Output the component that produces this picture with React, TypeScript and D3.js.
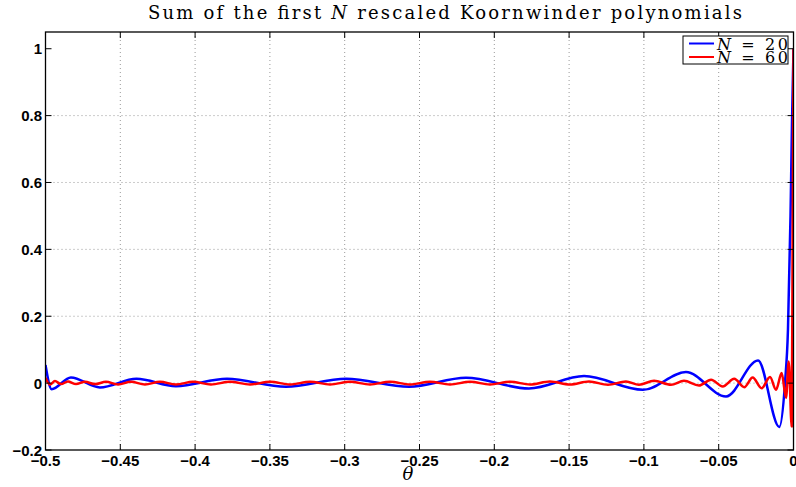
import React from 'react'
import * as d3 from 'd3'

// theta positions and values of the two sums
const thetaN20 = [-0.5, -0.4959, -0.483, -0.4636, -0.4392, -0.4128, -0.3787, -0.3392, -0.2991, -0.257, -0.2189, -0.1768, -0.14, -0.1006, -0.0719, -0.0451, -0.0237, -0.0095, -0.0057, -0.0037, -0.002, -0.001, 0]
const valueN20 = [0.054, -0.018, 0.017, -0.013, 0.013, -0.009, 0.013, -0.011, 0.013, -0.011, 0.016, -0.016, 0.021, -0.02, 0.033, -0.04, 0.068, -0.131, 0.0, 0.16, 0.5, 0.78, 1.0]

const thetaN60 = [-0.5, -0.497, -0.4937, -0.4896, -0.485, -0.4796, -0.4736, -0.4669, -0.4596, -0.4515, -0.4429, -0.4335, -0.4235, -0.4128, -0.4014, -0.3894, -0.3767, -0.3633, -0.3499, -0.3366, -0.3232, -0.3098, -0.2965, -0.2831, -0.2697, -0.2564, -0.243, -0.2296, -0.2162, -0.2029, -0.1895, -0.1761, -0.1628, -0.1494, -0.1367, -0.124, -0.112, -0.1033, -0.0932, -0.0819, -0.0732, -0.0632, -0.0551, -0.0473, -0.0396, -0.0329, -0.0273, -0.0213, -0.0157, -0.0117, -0.0079, -0.005, -0.0032, -0.0012, -0.0006, 0]
const valueN60 = [0.016, -0.004, 0.006, -0.003, 0.005, -0.003, 0.004, -0.003, 0.004, -0.004, 0.004, -0.004, 0.004, -0.004, 0.004, -0.004, 0.004, -0.004, 0.004, -0.004, 0.004, -0.004, 0.004, -0.004, 0.004, -0.004, 0.004, -0.004, 0.004, -0.004, 0.004, -0.004, 0.005, -0.004, 0.005, -0.005, 0.005, -0.005, 0.007, -0.005, 0.007, -0.007, 0.01, -0.01, 0.013, -0.012, 0.017, -0.015, 0.018, -0.02, 0.03, -0.044, 0.065, -0.13, 0.4, 1.0]

const xTicks = [-0.5, -0.45, -0.4, -0.35, -0.3, -0.25, -0.2, -0.15, -0.1, -0.05, 0]
const yTicks = [-0.2, 0, 0.2, 0.4, 0.6, 0.8, 1]

const fmt = (v: number) => (v < 0 ? '\u2212' + String(-v) : String(v))

export default function App() {
  const width = 796
  const height = 487
  const left = 45.5, right = 793.5, top = 32, bottom = 450

  const x = d3.scaleLinear().domain([-0.5, 0]).range([left, right])
  const y = d3.scaleLinear().domain([-0.2, 1.05]).range([bottom, top])

  const line = d3.line<[number, number]>()
    .x(d => x(d[0]))
    .y(d => y(d[1]))
    .curve(d3.curveMonotoneX)

  const blue = line(thetaN20.map((t, i) => [t, valueN20[i]]) as [number, number][])
  const red = line(thetaN60.map((t, i) => [t, valueN60[i]]) as [number, number][])

  const tickFont = { fontFamily: 'Liberation Sans, Arial, sans-serif', fontWeight: 'bold' as const, fontSize: 15 }
  const serif = 'DejaVu Serif, Liberation Serif, serif'

  return (
    <svg width={width} height={height} style={{ position: 'absolute', left: 0, top: 0, background: '#fff' }}>
      <rect x={0} y={0} width={width} height={height} fill="#fff" />
      <defs>
        <clipPath id="plot">
          <rect x={left} y={top} width={right - left} height={bottom - top} />
        </clipPath>
      </defs>

      {/* grid */}
      {xTicks.slice(1, -1).map(t => (
        <line key={'gx' + t} x1={x(t)} x2={x(t)} y1={top} y2={bottom} stroke="#999" strokeWidth={1} strokeDasharray="1,3" />
      ))}
      {yTicks.slice(1, -1).map(t => (
        <line key={'gy' + t} x1={left} x2={right} y1={y(t)} y2={y(t)} stroke="#999" strokeWidth={1} strokeDasharray="1,3" />
      ))}

      {/* curves */}
      <g clipPath="url(#plot)">
        <path d={blue || ''} fill="none" stroke="#0000ff" strokeWidth={2.5} strokeLinejoin="round" />
        <path d={red || ''} fill="none" stroke="#ff0000" strokeWidth={2.5} strokeLinejoin="round" />
      </g>

      {/* box and ticks */}
      <rect x={left} y={top} width={right - left} height={bottom - top} fill="none" stroke="#000" strokeWidth={1.3} />
      {xTicks.map(t => (
        <g key={'tx' + t}>
          <line x1={x(t)} x2={x(t)} y1={bottom} y2={bottom - 6} stroke="#000" />
          <line x1={x(t)} x2={x(t)} y1={top} y2={top + 6} stroke="#000" />
          <text x={x(t)} y={466} textAnchor="middle" {...tickFont}>{fmt(t)}</text>
        </g>
      ))}
      {yTicks.map(t => (
        <g key={'ty' + t}>
          <line x1={left} x2={left + 6} y1={y(t)} y2={y(t)} stroke="#000" />
          <line x1={right} x2={right - 6} y1={y(t)} y2={y(t)} stroke="#000" />
          <text x={42} y={y(t) + 5.5} textAnchor="end" {...tickFont}>{fmt(t)}</text>
        </g>
      ))}

      {/* title */}
      <text x={148} y={18.5} fontFamily={serif} fontSize={18} textLength={594} lengthAdjust="spacing">
        Sum of the first <tspan fontStyle="italic">N</tspan> rescaled Koornwinder polynomials
      </text>

      {/* x label */}
      <text x={408} y={480} textAnchor="middle" fontFamily={serif} fontStyle="italic" fontSize={18}>θ</text>

      {/* legend */}
      <rect x={683} y={36} width={105} height={28} fill="#fff" stroke="#000" strokeWidth={1} />
      <line x1={689} x2={714} y1={43.5} y2={43.5} stroke="#0000ff" strokeWidth={2} />
      <line x1={689} x2={714} y1={57} y2={57} stroke="#ff0000" strokeWidth={2} />
      <text x={717} y={49.5} fontFamily={serif} fontSize={16} textLength={71} lengthAdjust="spacing">
        <tspan fontStyle="italic">N</tspan> = 20
      </text>
      <text x={717} y={63} fontFamily={serif} fontSize={16} textLength={71} lengthAdjust="spacing">
        <tspan fontStyle="italic">N</tspan> = 60
      </text>
    </svg>
  )
}
